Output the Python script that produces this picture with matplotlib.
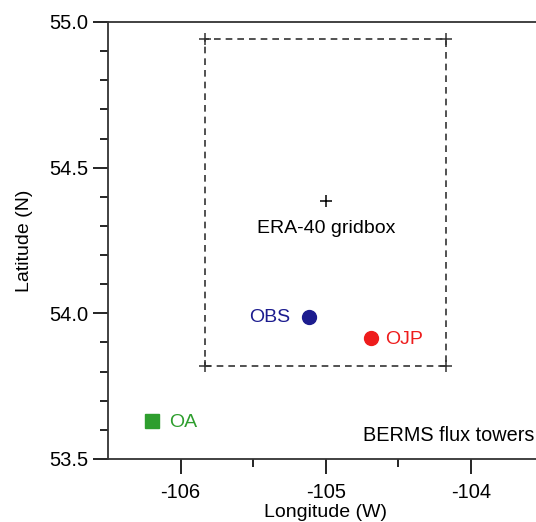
import numpy as np
import matplotlib.pyplot as plt
from matplotlib.ticker import MultipleLocator, FixedLocator

plt.rcParams['font.family'] = ['Liberation Sans', 'DejaVu Sans']

# ERA-40 grid box corners and centre
box_lon = [-105.83, -104.17]
box_lat = [53.82, 54.94]
centre_lon = -105.0
centre_lat = 54.385

# BERMS flux tower sites
sites = ['OBS', 'OJP', 'OA']
site_lon = [-105.117, -104.69, -106.2]
site_lat = [53.986, 53.914, 53.63]
site_color = ['#1c1c8f', '#ee1c1c', '#2e9e2e']
site_marker = ['o', 'o', 's']

fig = plt.figure(figsize=(5.36, 5.22), dpi=100)
ax = fig.add_axes([0.2015, 0.1207, 0.8125, 0.8372])

# dashed grid box with crosses on the corners
bx = [box_lon[0], box_lon[1], box_lon[1], box_lon[0], box_lon[0]]
by = [box_lat[0], box_lat[0], box_lat[1], box_lat[1], box_lat[0]]
ax.plot(bx, by, color='#333333', lw=1.2, ls=(0, (4, 3)))
ax.plot(bx[:4], by[:4], ls='none', marker='+', ms=8, mew=1.1, color='#333333')
ax.plot(centre_lon, centre_lat, marker='+', ms=8, mew=1.1, color='black')
ax.text(centre_lon, centre_lat - 0.095, 'ERA-40 gridbox', ha='center', va='center', fontsize=14)

for name, x, y, c, m in zip(sites, site_lon, site_lat, site_color, site_marker):
    ax.plot(x, y, marker=m, ms=10 if m == 'o' else 9.5, color=c, ls='none')
    if name == 'OBS':
        ax.text(x - 0.13, y, name, color=c, ha='right', va='center', fontsize=14)
    elif name == 'OJP':
        ax.text(x + 0.1, y - 0.005, name, color=c, ha='left', va='center', fontsize=14)
    else:
        ax.text(x + 0.12, y - 0.005, name, color=c, ha='left', va='center', fontsize=14)

ax.text(-104.745, 53.58, 'BERMS flux towers', ha='left', va='center', fontsize=14.3)

ax.set_xlim(-106.5, -103.5)
ax.set_ylim(53.5, 55.0)
ax.xaxis.set_major_locator(MultipleLocator(1))
ax.xaxis.set_minor_locator(FixedLocator([-105.5, -104.5]))
ax.yaxis.set_major_locator(MultipleLocator(0.5))
ax.yaxis.set_minor_locator(MultipleLocator(0.1))
ax.xaxis.set_major_formatter(plt.FuncFormatter(lambda v, p: '%d' % v))
ax.yaxis.set_major_formatter(plt.FuncFormatter(lambda v, p: '%.1f' % v))
ax.tick_params(which='major', direction='out', length=11, width=1.2, labelsize=14.5, pad=6)
ax.tick_params(axis='y', which='major', pad=3)
ax.tick_params(which='minor', direction='out', length=6, width=1.2)
ax.tick_params(top=False, right=False, which='both')
for s in ax.spines.values():
    s.set_linewidth(1.3)
    s.set_color('#333333')

ax.set_xlabel('Longitude (W)', fontsize=14, labelpad=2)
ax.set_ylabel('Latitude (N)', fontsize=14, labelpad=12)

fig.savefig('out.png', dpi=100)
